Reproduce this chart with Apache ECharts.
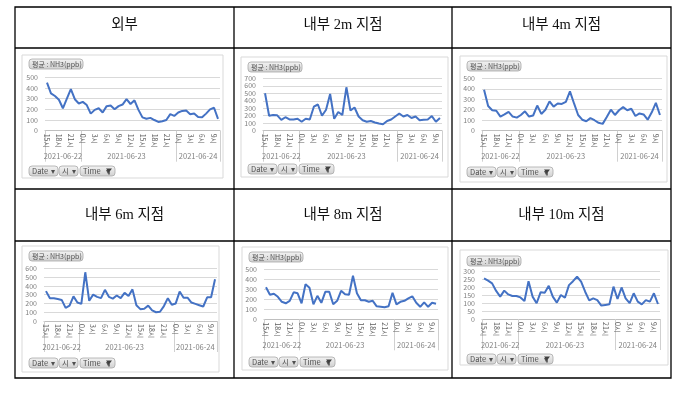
<!DOCTYPE html>
<html><head><meta charset="utf-8">
<script src="https://cdn.jsdelivr.net/npm/echarts@6/dist/echarts.min.js"></script>
<style>html,body{margin:0;padding:0;background:#fff}#c{width:692px;height:410px}</style>
</head><body><div id="c"></div>
<script>
// ---------- data ----------
const hours = ['15시','16시','17시','18시','19시','20시','21시','22시','23시',
  '0시','1시','2시','3시','4시','5시','6시','7시','8시','9시','10시','11시','12시','13시','14시','15시','16시','17시','18시','19시','20시','21시','22시','23시',
  '0시','1시','2시','3시','4시','5시','6시','7시','8시','9시','10시'];
const dateNames = ['2021-06-22','2021-06-23','2021-06-24'];
const dateStartIdx = [0, 9, 33];
const dateLabelIdx = [4, 20, 38];
const headers = ['외부','내부 2m 지점','내부 4m 지점','내부 6m 지점','내부 8m 지점','내부 10m 지점'];
const seriesTitle = '평균 : NH3(ppb)';
const yMax = [500, 700, 500, 600, 500, 300];
const yStep = [100, 100, 100, 100, 100, 50];

const outside = [450,350,325,290,210,300,390,295,255,270,240,160,195,210,170,230,235,200,230,245,295,250,285,195,125,112,120,100,82,88,100,155,138,170,185,188,155,162,128,125,160,200,215,110];
const in2m = [500,200,210,205,145,180,150,150,160,120,160,150,320,350,200,280,490,160,250,210,580,270,310,190,140,120,130,110,95,85,130,150,190,230,190,210,170,190,140,145,150,195,120,170];
const in4m = [390,235,195,190,135,155,180,135,125,150,185,135,145,240,160,200,280,230,260,255,275,375,260,150,105,90,120,100,75,65,130,200,150,195,225,195,210,140,165,155,105,175,265,150];
const in6m = [340,260,258,250,240,150,175,280,210,195,555,230,300,275,260,355,275,255,290,260,320,285,360,180,135,140,175,120,100,105,170,260,185,200,335,265,265,210,195,180,165,270,270,475];
const in8m = [320,245,255,225,175,160,185,270,260,160,350,315,150,235,165,275,275,150,185,285,250,245,435,260,190,190,175,185,130,125,120,130,265,150,175,185,210,230,165,125,170,125,165,155];
const in10m = [258,243,226,178,142,180,156,146,146,137,114,240,142,100,170,167,211,142,104,152,135,215,240,268,237,173,118,131,120,85,89,93,205,127,200,131,100,163,110,93,120,110,163,95];
const allSeries = [outside, in2m, in4m, in6m, in8m, in10m];

// ---------- layout ----------
const panels = [
  {frame:[22,55,201,123], grid:[45,77.3,220,130.7], titleY:59, btnY:166},
  {frame:[241,57,207,120], grid:[263,78.3,442,130.7], titleY:62, btnY:164},
  {frame:[460,56,207,126], grid:[482,78.3,662,130.7], titleY:61, btnY:167},
  {frame:[22,246,197,126], grid:[44,268.3,217,321], titleY:251, btnY:358},
  {frame:[242,247,206,123], grid:[264,269.3,438,319.3], titleY:252, btnY:357},
  {frame:[460,250,208,115], grid:[482,271.7,660,319], titleY:256, btnY:354}
];
const headerPos = [[124.5,25],[343,25],[561.5,25],[124.5,215],[343,215],[561.5,215]];
const FONT = "'Noto Sans CJK KR', sans-serif";
const BLUE = '#4472C4';

const chart = echarts.init(document.getElementById('c'));

const btnFill = new echarts.graphic.LinearGradient(0,0,0,1,[{offset:0,color:'#f4f4f4'},{offset:1,color:'#cfcfcf'}]);
function button(x, y, w, h, text, fs) {
  return {type:'group', children:[
    {type:'rect', shape:{x:x, y:y, width:w, height:h, r:3}, style:{fill:btnFill, stroke:'#a8a8a8', lineWidth:0.8}},
    {type:'text', x:x+3, y:y+h/2, style:{text:text, fill:'#505050', font:fs+'px '+FONT, textVerticalAlign:'middle', textBaseline:'middle'}}
  ]};
}

const graphics = [];
// table
const tl = {stroke:'#000', lineWidth:1.3};
graphics.push({type:'rect', shape:{x:15,y:7,width:656,height:371}, style:{fill:'none', stroke:'#000', lineWidth:1.3}});
[[15,48,671,48],[15,189,671,189],[15,241,671,241],[234,7,234,378],[452,7,452,378]].forEach(l=>{
  graphics.push({type:'line', shape:{x1:l[0],y1:l[1],x2:l[2],y2:l[3]}, style:tl});
});
headers.forEach((h,i)=>{
  graphics.push({type:'text', x:headerPos[i][0], y:headerPos[i][1], style:{text:h, fill:'#111', font:"14.5px 'Liberation Serif','Noto Sans CJK KR', serif", textAlign:'center', textVerticalAlign:'middle', align:'center', verticalAlign:'middle'}});
});
panels.forEach((p)=>{
  const [fx,fy,fw,fh] = p.frame;
  graphics.push({type:'rect', z:-10, shape:{x:fx,y:fy,width:fw,height:fh}, style:{fill:'none', stroke:'#d9d9d9', lineWidth:1}});
  graphics.push(button(fx+7, p.titleY, 54, 10, seriesTitle, 7));
  graphics.push(button(fx+7, p.btnY, 29, 10, 'Date  ▾', 7.5));
  graphics.push(button(fx+37, p.btnY, 19, 10, '시  ▾', 7.5));
  graphics.push(button(fx+58, p.btnY, 35, 10, 'Time   ▾', 7.5));
  // filter icon
  graphics.push({type:'polygon', shape:{points:[[fx+84,p.btnY+2.5],[fx+90,p.btnY+2.5],[fx+87.7,p.btnY+5.5],[fx+87.7,p.btnY+8.5],[fx+86.3,p.btnY+8.5],[fx+86.3,p.btnY+5.5]]}, style:{fill:'#404040'}});
});

const grids = [], xAxes = [], yAxes = [], series = [];
panels.forEach((p,k)=>{
  const g = p.grid;
  grids.push({left:g[0], top:g[1], width:g[2]-g[0], height:g[3]-g[1], containLabel:false});
  xAxes.push({type:'category', gridIndex:k, data:hours, boundaryGap:true,
    axisLine:{lineStyle:{color:'#bfbfbf', width:1}}, axisTick:{show:false},
    axisLabel:{interval:2, rotate:-90, fontSize:7, color:'#606060', margin:3, fontFamily:FONT}});
  xAxes.push({type:'category', gridIndex:k, data:hours, boundaryGap:true, position:'bottom',
    axisLine:{show:false},
    axisTick:{show:true, length:31, interval:(i)=>dateStartIdx.indexOf(i)>=0, lineStyle:{color:'#d0d0d0', width:1}},
    axisLabel:{interval:(i)=>dateLabelIdx.indexOf(i)>=0, formatter:(v,i)=>{const j=dateLabelIdx.indexOf(i); return j>=0?dateNames[j]:'';},
      fontSize:7.5, color:'#7f7f7f', margin:22, fontFamily:FONT}});
  yAxes.push({type:'value', gridIndex:k, min:0, max:yMax[k], interval:yStep[k],
    axisLine:{show:false}, axisTick:{show:false},
    splitLine:{lineStyle:{color:'#d9d9d9', width:1}},
    axisLabel:{fontSize:7, color:'#808080', margin:7, fontFamily:FONT}});
  series.push({type:'line', xAxisIndex:2*k, yAxisIndex:k, data:allSeries[k], showSymbol:false,
    lineStyle:{width:2, color:BLUE}, itemStyle:{color:BLUE}});
});

chart.setOption({
  animation:false,
  backgroundColor:'#fff',
  grid:grids, xAxis:xAxes, yAxis:yAxes, series:series,
  graphic:graphics
});
</script></body></html>
